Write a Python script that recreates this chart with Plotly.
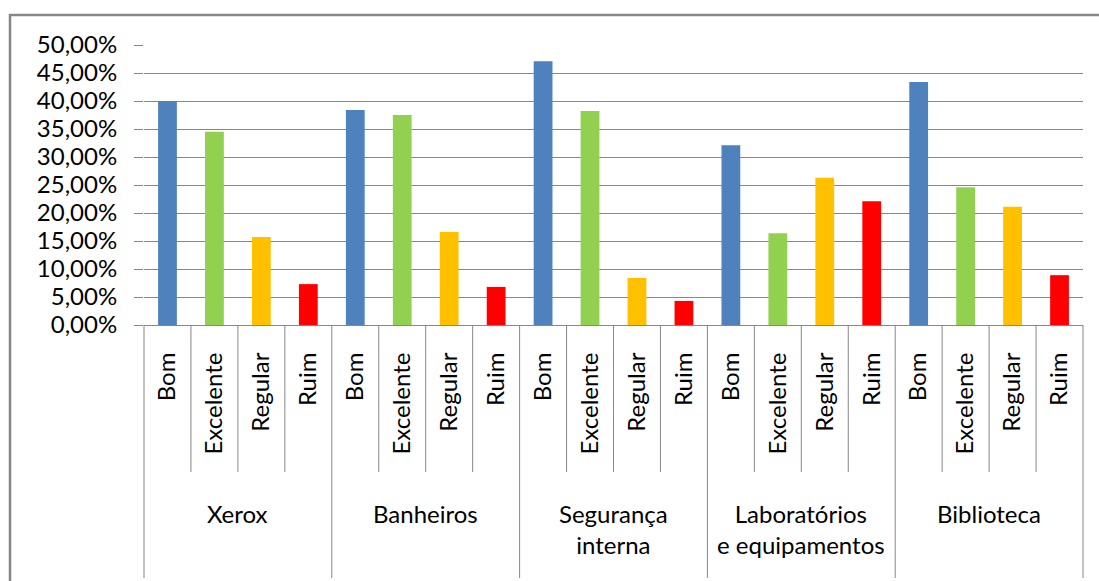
import plotly.graph_objects as go

# Survey results per service, share of answers by rating (%)
groups = ["Xerox", "Banheiros", "Segurança<br>interna", "Laboratórios<br>e equipamentos", "Biblioteca"]
ratings = ["Bom", "Excelente", "Regular", "Ruim"]
bom = [40.0, 38.4, 47.1, 32.1, 43.4]
excelente = [34.5, 37.5, 38.2, 16.4, 24.6]
regular = [15.7, 16.6, 8.4, 26.3, 21.1]
ruim = [7.3, 6.8, 4.3, 22.1, 8.9]
y_ticks = [0, 5, 10, 15, 20, 25, 30, 35, 40, 45, 50]
y_tick_text = [f"{v:.2f}%".replace(".", ",") for v in y_ticks]

series = [bom, excelente, regular, ruim]
colors = ["#4F81BD", "#92D050", "#FFC000", "#FF0000"]
GRAY = "#878787"
FONT = "Lato"
n_r = len(ratings)
n_cat = len(groups) * n_r

fig = go.Figure()
for r, (name, vals, col) in enumerate(zip(ratings, series, colors)):
    xs = [g * n_r + r for g in range(len(groups))]
    fig.add_trace(go.Bar(x=xs, y=vals, name=name, width=0.4,
                         marker=dict(color=col, line=dict(width=0)),
                         showlegend=False))

tick_pos = list(range(n_cat))
tick_txt = [ratings[i % n_r] for i in tick_pos]

# category divider lines below the axis (short within a group, long between groups)
H = 280.0
shapes = []
for k in range(n_cat + 1):
    long_line = k % n_r == 0
    depth = 253 if long_line else 147
    shapes.append(dict(type="line", xref="paper", yref="paper",
                       x0=k / n_cat, x1=k / n_cat, y0=0, y1=-depth / H,
                       line=dict(color=GRAY, width=1)))
# outer chart frame
shapes.append(dict(type="rect", xref="paper", yref="paper",
                   x0=-134 / 939, x1=1.06, y0=-1.05, y1=1 + 30 / H,
                   line=dict(color=GRAY, width=2.5)))

annotations = []
for g, label in enumerate(groups):
    annotations.append(dict(x=g * n_r + (n_r - 1) / 2, xref="x", y=-172 / H, yref="paper",
                            text=label, showarrow=False, yanchor="top",
                            font=dict(family=FONT, size=24, color="#000")))

fig.update_layout(
    width=1099, height=581,
    margin=dict(l=144, r=16, t=45, b=256),
    paper_bgcolor="white", plot_bgcolor="white",
    barmode="overlay",
    shapes=shapes, annotations=annotations,
    xaxis=dict(range=[-0.5, n_cat - 0.5], tickvals=tick_pos, ticktext=tick_txt,
               tickangle=-90, showgrid=False, zeroline=False,
               showline=True, linecolor=GRAY, linewidth=1, ticks="",
               ticklabelstandoff=17,
               tickfont=dict(family=FONT, size=24, color="#000")),
    yaxis=dict(range=[0, 50], tickvals=y_ticks, ticktext=y_tick_text,
               showgrid=True, gridcolor=GRAY, gridwidth=1, zeroline=False,
               showline=False, ticks="outside", ticklen=9, tickcolor=GRAY,
               ticklabelstandoff=12,
               tickfont=dict(family=FONT, size=24, color="#000")),
)

fig.write_html("out.html")
